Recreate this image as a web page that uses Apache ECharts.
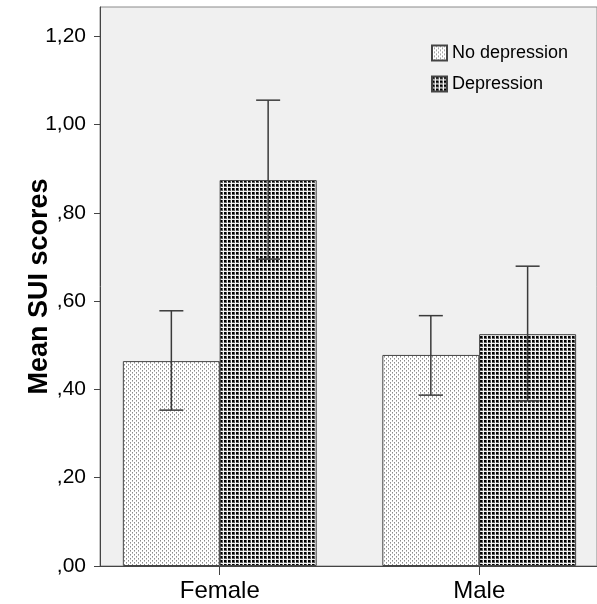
<!DOCTYPE html>
<html>
<head>
<meta charset="utf-8">
<script src="https://cdn.jsdelivr.net/npm/echarts@6/dist/echarts.min.js"></script>
<style>
  html, body { margin: 0; padding: 0; background: #fff; }
  #chart { width: 597px; height: 604px; }
</style>
</head>
<body>
<div id="chart"></div>
<script>
const categories = ['Female', 'Male'];
const groupNames = ['No depression', 'Depression'];
const meanNoDep = [0.464, 0.478];
const meanDep = [0.874, 0.525];
const lowNoDep = [0.353, 0.387];
const highNoDep = [0.578, 0.567];
const lowDep = [0.695, 0.374];
const highDep = [1.055, 0.679];

// bar offset from category centre (in category units), bars ~97px wide, 260px per category
const offset = 0.1865;

function makePattern(draw) {
  const c = document.createElement('canvas');
  c.width = 4;
  c.height = 4;
  const g = c.getContext('2d');
  draw(g);
  return { image: c, repeat: 'repeat' };
}

const lightFill = makePattern((g) => {
  g.fillStyle = '#ffffff';
  g.fillRect(0, 0, 4, 4);
  g.fillStyle = '#8c8c8c';
  g.fillRect(0, 0, 1, 1);
  g.fillRect(2, 2, 1, 1);
  g.fillStyle = '#bdbdbd';
  g.fillRect(0, 1, 1, 1);
  g.fillRect(2, 3, 1, 1);
});

const darkFill = makePattern((g) => {
  g.fillStyle = '#5a5a5a';
  g.fillRect(0, 0, 4, 4);
  g.fillStyle = '#f4f4f4';
  g.fillRect(3, 0, 1, 4);
  g.fillRect(0, 3, 4, 1);
  g.fillStyle = '#000000';
  g.fillRect(0, 0, 2, 2);
});

const errorBar = (params, api) => {
  const x = api.value(0);
  const lo = api.coord([x, api.value(1)]);
  const hi = api.coord([x, api.value(2)]);
  const half = 12;
  const style = { stroke: '#3a3a3a', lineWidth: 1.5 };
  return {
    type: 'group',
    children: [
      { type: 'line', shape: { x1: lo[0], y1: lo[1], x2: hi[0], y2: hi[1] }, style },
      { type: 'line', shape: { x1: hi[0] - half, y1: hi[1], x2: hi[0] + half, y2: hi[1] }, style },
      { type: 'line', shape: { x1: lo[0] - half, y1: lo[1], x2: lo[0] + half, y2: lo[1] }, style },
    ],
  };
};

const fmtY = (v) => v.toFixed(2).replace('.', ',').replace(/^0/, '');

const option = {
  animation: false,
  textStyle: { fontFamily: 'Arial, "Liberation Sans", sans-serif' },
  grid: {
    left: 100,
    top: 7,
    right: -1,
    bottom: 38,
    show: true,
    backgroundColor: '#f0f0f0',
    borderColor: '#8a8a8a',
    borderWidth: 1,
  },
  legend: {
    orient: 'vertical',
    left: 426,
    top: 39,
    itemWidth: 15,
    itemHeight: 15,
    itemGap: 13,
    icon: 'rect',
    textStyle: { fontSize: 18, color: '#000' },
    data: groupNames,
  },
  xAxis: {
    type: 'value',
    min: -0.4615,
    max: -0.4615 + 498 / 260,
    splitLine: { show: false },
    axisLine: { onZero: false, lineStyle: { color: '#444', width: 1 } },
    axisTick: { customValues: [0, 1], length: 9, lineStyle: { color: '#444' } },
    axisLabel: {
      customValues: [0, 1],
      formatter: (v) => categories[Math.round(v)],
      fontSize: 24,
      color: '#000',
      margin: 13,
    },
  },
  yAxis: {
    type: 'value',
    min: 0,
    max: 1.266,
    interval: 0.2,
    name: 'Mean SUI scores',
    nameLocation: 'middle',
    nameRotate: 90,
    nameGap: 47,
    nameMoveOverlap: false,
    nameTextStyle: { fontSize: 27, fontWeight: 'bold', color: '#000' },
    splitLine: { show: false },
    axisLine: { show: true, onZero: false, lineStyle: { color: '#444', width: 1 } },
    axisTick: { show: true, length: 6, lineStyle: { color: '#444' } },
    axisLabel: { formatter: fmtY, fontSize: 21, color: '#000', margin: 14, showMaxLabel: false },
  },
  series: [
    {
      name: groupNames[0],
      type: 'bar',
      barWidth: 97,
      itemStyle: { color: lightFill, borderColor: '#444', borderWidth: 1 },
      data: meanNoDep.map((v, i) => [i - offset, v]),
    },
    {
      name: groupNames[1],
      type: 'bar',
      barWidth: 97,
      barGap: '-100%',
      itemStyle: { color: darkFill, borderColor: '#444', borderWidth: 1 },
      data: meanDep.map((v, i) => [i + offset, v]),
    },
    {
      type: 'custom',
      renderItem: errorBar,
      z: 10,
      encode: { x: 0, y: [1, 2] },
      data: lowNoDep.map((v, i) => [i - offset, v, highNoDep[i]]),
    },
    {
      type: 'custom',
      renderItem: errorBar,
      z: 10,
      encode: { x: 0, y: [1, 2] },
      data: lowDep.map((v, i) => [i + offset, v, highDep[i]]),
    },
  ],
};

const chart = echarts.init(document.getElementById('chart'));
chart.setOption(option);
</script>
</body>
</html>
